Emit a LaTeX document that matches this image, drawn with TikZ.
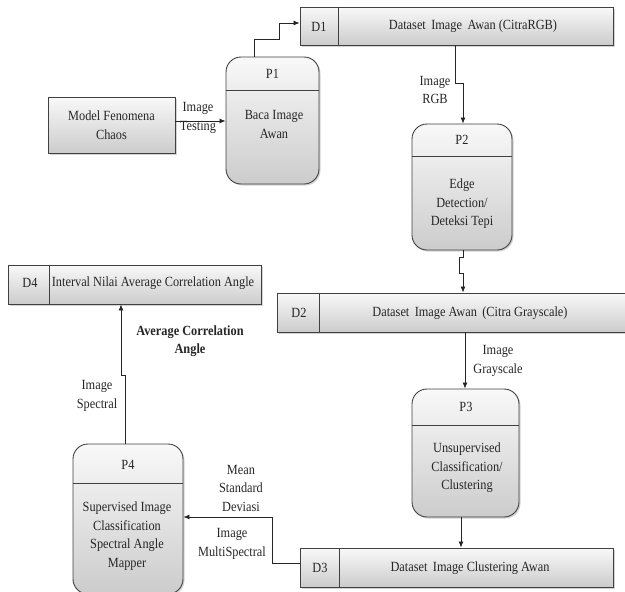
\documentclass[tikz,border=0pt]{standalone}
\usepackage{fontspec}
\setmainfont{Liberation Serif}[FakeStretch=0.88]
\usetikzlibrary{arrows.meta,shadows}
\tikzset{
  base/.style={top color=gray!5, bottom color=gray!40, draw=black!75, line width=0.9pt,
    drop shadow={shadow xshift=1.5pt, shadow yshift=-1.5pt, opacity=0.35}},
  extbox/.style={base, rectangle},
  procbox/.style={base, rectangle, rounded corners=15pt},
  storebox/.style={base, rectangle, minimum height=38pt},
  sep/.style={draw=black!75, line width=0.9pt},
  lbl/.style={font=\fontsize{14}{18.5}\selectfont, text=black!85, align=center, inner sep=0pt},
  flow/.style={draw=black!85, line width=0.8pt, -{Latex[length=6pt,width=5pt]}},
}
\begin{document}
\begin{tikzpicture}[x=1pt,y=-1pt]
\useasboundingbox (0,0) rectangle (625,592);
% external entity
\node[extbox, minimum width=127pt, minimum height=56pt] (mf) at (111.5,125) {};
\node[lbl] (mft) at (111.5,125) {Model Fenomena\\Chaos};
% P1
\node[procbox, minimum width=93pt, minimum height=127pt] (p1) at (272.5,120.5) {};
\draw[sep] (p1.west |- 0,90) -- (p1.east |- 0,90);
\node[lbl] (p1h) at (272.5,74) {P1};
\node[lbl] (p1b) at (274,124.5) {Baca Image\\Awan};
% D1
\node[storebox, minimum width=313pt] (d1) at (456.5,26) {};
\draw[sep] (d1.north -| 338,0) -- (d1.south -| 338,0);
\node[lbl] (d1n) at (319,27) {D1};
\node[lbl] (d1t) at (473,26) {Dataset\, Image\, Awan (CitraRGB)};
% P2
\node[procbox, minimum width=100pt, minimum height=126pt] (p2) at (462,187) {};
\draw[sep] (p2.west |- 0,156) -- (p2.east |- 0,156);
\node[lbl] (p2h) at (462,140) {P2};
\node[lbl] (p2b) at (462,204) {Edge\\Detection/\\Deteksi Tepi};
% D2
\node[storebox, minimum width=360pt, minimum height=39pt] (d2) at (457,312.5) {};
\draw[sep] (d2.north -| 319,0) -- (d2.south -| 319,0);
\node[lbl] (d2n) at (299,313) {D2};
\node[lbl] (d2t) at (470,313) {Dataset\, Image Awan\, (Citra Grayscale)};
% P3
\node[procbox, minimum width=107pt, minimum height=128pt] (p3) at (465.5,453) {};
\draw[sep] (p3.west |- 0,425) -- (p3.east |- 0,425);
\node[lbl] (p3h) at (466,407) {P3};
\node[lbl] (p3b) at (467,468) {Unsupervised\\Classification/\\Clustering};
% D3
\node[storebox, minimum width=313pt, minimum height=39pt] (d3) at (456.5,567.5) {};
\draw[sep] (d3.north -| 339,0) -- (d3.south -| 339,0);
\node[lbl] (d3n) at (320,568) {D3};
\node[lbl] (d3t) at (470,568) {Dataset\, Image Clustering Awan};
% P4
\node[procbox, minimum width=110pt, minimum height=150pt] (p4) at (128,519) {};
\draw[sep] (p4.west |- 0,483) -- (p4.east |- 0,483);
\node[lbl] (p4h) at (128,465) {P4};
\node[lbl] (p4b) at (127,536) {Supervised Image\\Classification\\Spectral Angle\\Mapper};
% D4
\node[storebox, minimum width=253pt, minimum height=39pt] (d4) at (134.5,284.5) {};
\draw[sep] (d4.north -| 49,0) -- (d4.south -| 49,0);
\node[lbl] (d4n) at (30,283) {D4};
\node[lbl] (d4t) at (153,283) {Interval Nilai Average Correlation Angle};
% flows
\draw[flow] (mf.east |- 0,121) -- (p1.west |- 0,121);
\node[lbl] (l1) at (198,118) {Image\\Testing};
\draw[flow] (p1.north -| 254,0) -- (254,39) -- (279,39) -- (279,23) -- (d1.west |- 0,23);
\draw[flow] (d1.south -| 455,0) -- (455,83) -- (463,83) -- (p2.north -| 463,0);
\node[lbl] (l2) at (435,90) {Image\\RGB};
\draw[flow] (p2.south -| 463,0) -- (463,257) -- (459,257) -- (459,273) -- (463,273) -- (d2.north -| 463,0);
\draw[flow] (d2.south -| 465,0) -- (p3.north -| 465,0);
\node[lbl] (l3) at (498,361) {Image\\Grayscale};
\draw[flow] (p3.south -| 461,0) -- (d3.north -| 461,0);
\draw[flow] (d3.west |- 0,563) -- (272,563) -- (272,517) -- (p4.east |- 0,517);
\node[lbl] (l4) at (241,488) {Mean\\Standard\\Deviasi};
\node[lbl] (l5) at (232,544) {Image\\MultiSpectral};
\draw[flow] (p4.north -| 125,0) -- (125,375) -- (121,375) -- (d4.south -| 121,0);
\node[lbl] (l6) at (97,396) {Image\\Spectral};
\node[lbl, font=\fontsize{14}{18.5}\selectfont\bfseries] (l7) at (190,341) {Average Correlation\\Angle};
\end{tikzpicture}
\end{document}
